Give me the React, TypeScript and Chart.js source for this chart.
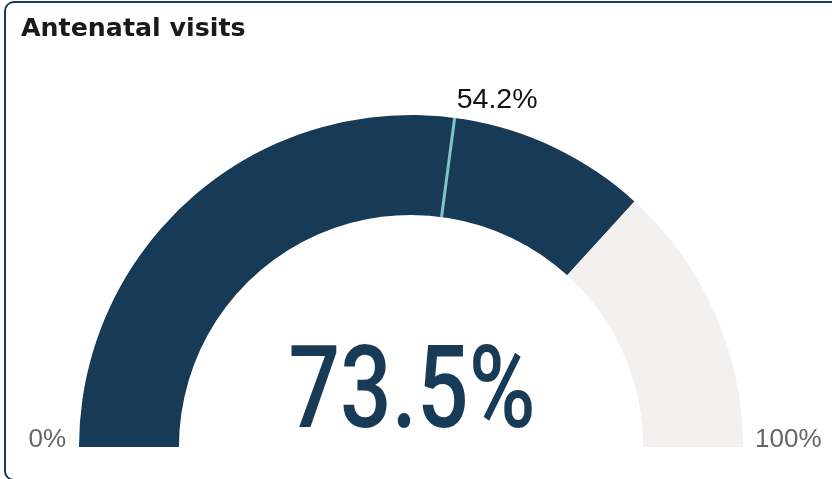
import React, { useEffect, useRef } from "react";
import { Chart, registerables } from "chart.js";

Chart.register(...registerables);

const TITLE = "Antenatal visits";
const VALUE = 73.5;
const TARGET = 54.2;
const MAX = 100;
const MIN_LABEL = "0%";
const MAX_LABEL = "100%";
const VALUE_LABEL = "73.5%";
const TARGET_LABEL = "54.2%";
const SEGMENTS = [VALUE, MAX - VALUE];

const NAVY = "#173a57";
const TRACK = "#f2f1f0";
const MARKER = "#7fc4c6";

const gaugePlugin = {
  id: "gaugeText",
  afterDatasetsDraw(chart: any) {
    const ctx = chart.ctx as CanvasRenderingContext2D;
    const meta = chart.getDatasetMeta(0);
    const arc = meta.data[0];
    if (!arc) return;
    const { x, y, innerRadius, outerRadius, startAngle } = arc.getProps(
      ["x", "y", "innerRadius", "outerRadius", "startAngle"],
      true
    );
    // target marker
    const a = startAngle + (TARGET / MAX) * Math.PI;
    const cos = Math.cos(a);
    const sin = Math.sin(a);
    ctx.save();
    ctx.strokeStyle = MARKER;
    ctx.lineWidth = 3;
    ctx.beginPath();
    ctx.moveTo(x + cos * innerRadius, y + sin * innerRadius);
    ctx.lineTo(x + cos * outerRadius, y + sin * outerRadius);
    ctx.stroke();

    // target label
    ctx.fillStyle = "#111";
    ctx.font = '28.5px "Liberation Sans", Arial, sans-serif';
    ctx.textAlign = "left";
    ctx.textBaseline = "alphabetic";
    ctx.fillText(TARGET_LABEL, x + cos * outerRadius + 2, y + sin * outerRadius - 10);

    // min / max labels
    ctx.fillStyle = "#666";
    ctx.font = '26px "Liberation Sans", Arial, sans-serif';
    ctx.textAlign = "right";
    ctx.fillText(MIN_LABEL, x - outerRadius - 13, y);
    ctx.textAlign = "left";
    ctx.fillText(MAX_LABEL, x + outerRadius + 12, y);

    // big value
    ctx.fillStyle = NAVY;
    ctx.font = '500 115px Roboto, "Liberation Sans", sans-serif';
    ctx.textAlign = "center";
    ctx.translate(x + 1, y - 20);
    ctx.scale(0.79, 1);
    ctx.fillText(VALUE_LABEL, 0, 0);
    ctx.restore();

    // title
    ctx.save();
    ctx.fillStyle = "#1a1a1a";
    ctx.font = 'bold 25.3px "DejaVu Sans", sans-serif';
    ctx.textAlign = "left";
    ctx.textBaseline = "alphabetic";
    ctx.fillText(TITLE, 21, 36);
    ctx.restore();
  },
};

export default function App() {
  const ref = useRef<HTMLCanvasElement | null>(null);

  useEffect(() => {
    if (!ref.current) return;
    const chart = new Chart(ref.current, {
      type: "doughnut",
      data: {
        labels: ["Value", "Remaining"],
        datasets: [
          {
            data: SEGMENTS,
            backgroundColor: [NAVY, TRACK],
            borderWidth: 0,
          },
        ],
      },
      options: {
        responsive: false,
        animation: false,
        rotation: -90,
        circumference: 180,
        cutout: "69.9%",
        layout: { padding: { left: 79, right: 89, top: 115, bottom: 32 } },
        plugins: {
          legend: { display: false },
          tooltip: { enabled: false },
          title: { display: false },
        },
      },
      plugins: [gaugePlugin],
    });
    return () => chart.destroy();
  }, []);

  return (
    <div style={{ position: "absolute", left: 0, top: 0, width: 832, height: 479, overflow: "hidden", background: "#fff" }}>
      <canvas ref={ref} width={832} height={479} style={{ position: "absolute", left: 0, top: 0, width: 832, height: 479 }} />
      <div
        style={{
          position: "absolute",
          left: 4,
          top: 1,
          width: 850,
          height: 480,
          border: `2px solid ${NAVY}`,
          borderRadius: 10,
          boxSizing: "border-box",
          pointerEvents: "none",
        }}
      />
    </div>
  );
}
